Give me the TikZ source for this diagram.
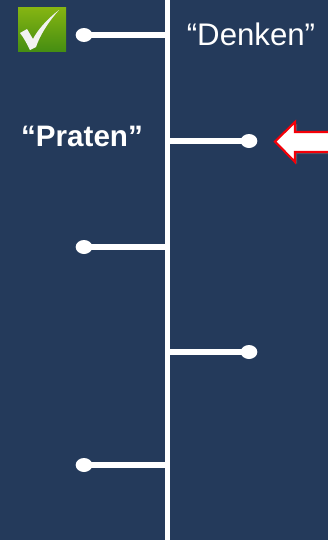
\documentclass[tikz,border=0pt]{standalone}
\usepackage{fontspec}
\setmainfont{Liberation Sans}
\usepackage{tikz}
\usetikzlibrary{calc,shadows,shapes.geometric}
\definecolor{slidebg}{HTML}{243A5B}
\definecolor{checktop}{HTML}{86B512}
\definecolor{checkbot}{HTML}{468E12}
\definecolor{arrowred}{HTML}{F40008}
\tikzset{
  dot/.style={ellipse,fill=white,inner sep=0pt,minimum width=12.5pt,minimum height=10.5pt},
  branch/.style={draw=white,line width=4pt},
  label/.style={text=white,inner sep=0pt}
}
\begin{document}
\begin{tikzpicture}[x=0.75pt,y=-0.75pt]
\useasboundingbox (0,0) rectangle (328,540);
\fill[slidebg] (0,0) rectangle (328,540);

\coordinate (top) at (167.5,0);
\coordinate (bottom) at (167.5,540);
\draw[white,line width=4pt] (top) -- (bottom);

\coordinate (a) at (165,35);
\coordinate (b) at (170,141);
\coordinate (c) at (165,247);
\coordinate (d) at (170,352);
\coordinate (e) at (165,465);
\node[dot] (dota) at (84,35) {};
\node[dot] (dotb) at (249,141) {};
\node[dot] (dotc) at (84,247) {};
\node[dot] (dotd) at (249,352) {};
\node[dot] (dote) at (84,465) {};
\draw[branch] (dota.center) -- (a);
\draw[branch] (dotb.center) -- (b);
\draw[branch] (dotc.center) -- (c);
\draw[branch] (dotd.center) -- (d);
\draw[branch] (dote.center) -- (e);

\node[label,font=\fontsize{23.4}{26}\selectfont] (denken) at (251,34) {“Denken”};
\node[label,font=\fontsize{22.2}{26}\selectfont\bfseries] (praten) at (82,136) {“Praten”};

\shade[top color=checktop,bottom color=checkbot] (18,7) rectangle (66,51);
\fill[white!95!black] (59,10) .. controls (46,20) and (37,31) .. (33,39)
  .. controls (31,36) and (29,32) .. (27,29) -- (20,33)
  .. controls (24,38) and (27,44) .. (30,50) -- (36,47)
  .. controls (40,35) and (49,21) .. (59,10) -- cycle;

\draw[arrowred,line width=1.6pt,fill=white,drop shadow={shadow xshift=1.5pt,shadow yshift=-1.5pt,opacity=0.45}]
  (335,132) -- (295,132) -- (295,122) -- (275,141.5) -- (295,162) -- (295,152) -- (335,152);
\end{tikzpicture}
\end{document}
